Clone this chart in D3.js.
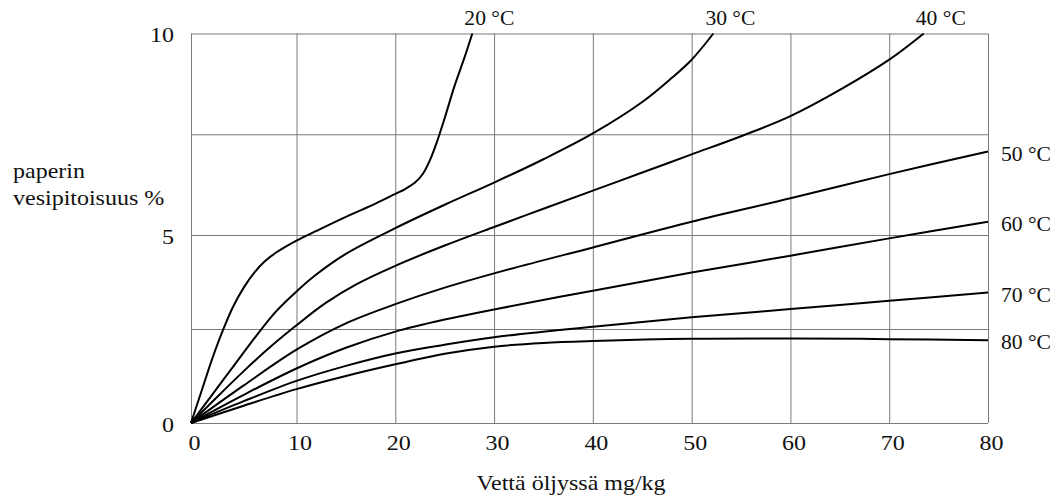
<!DOCTYPE html>
<html>
<head>
<meta charset="utf-8">
<script src="https://cdn.jsdelivr.net/npm/d3@7"></script>
<style>
body { margin: 0; background: #fff; }
text { font-family: "Liberation Serif", "Times New Roman", serif; fill: #111; }
</style>
</head>
<body>
<script>

//
//**   Dane   **/
//

var xTicks = [0, 10, 20, 30, 40, 50, 60, 70, 80];
var yTicks = [0, 2.5, 5, 7.5, 10];
var yLabels = [0, 5, 10];

var names = ["20 °C", "30 °C", "40 °C", "50 °C", "60 °C", "70 °C", "80 °C"];

var c20 = [[0,0],[1,0.85],[2,1.7],[3,2.45],[4,3.1],[5,3.6],[6,4.0],[7,4.3],[8,4.52],[10,4.85],
           [12,5.1],[15,5.45],[18,5.78],[20,6.02],[21,6.14],[22,6.3],[22.8,6.52],[23.5,6.85],
           [24.2,7.3],[25,7.9],[26,8.7],[27,9.4],[27.8,10]];
var c30 = [[0,0],[2,0.75],[4,1.5],[6,2.25],[8,2.95],[10,3.5],[12,3.95],[15,4.5],[20,5.17],
           [25,5.75],[30,6.3],[35,6.88],[40,7.52],[45,8.3],[48,8.9],[50,9.35],[52.2,10]];
var c40 = [[0,0],[2.5,0.7],[5,1.38],[7.5,2.02],[10,2.6],[13,3.2],[16,3.68],[20,4.18],[25,4.72],
           [30,5.2],[35,5.65],[40,6.1],[45,6.55],[50,7.0],[55,7.45],[60,7.95],[65,8.6],
           [70,9.35],[73.5,10]];
var c50 = [[0,0],[5,1.0],[10,1.95],[15,2.65],[20,3.16],[25,3.6],[30,3.98],[40,4.67],[50,5.33],
           [60,5.91],[70,6.51],[80,7.07]];
var c60 = [[0,0],[5,0.75],[10,1.45],[15,2.0],[20,2.43],[25,2.75],[30,3.02],[40,3.52],[50,4.0],
           [60,4.45],[70,4.91],[80,5.33]];
var c70 = [[0,0],[5,0.58],[10,1.12],[15,1.52],[20,1.85],[25,2.08],[30,2.28],[40,2.56],[50,2.81],
           [60,3.03],[70,3.25],[80,3.47]];
var c80 = [[0,0],[5,0.46],[10,0.9],[15,1.25],[20,1.56],[25,1.84],[30,2.03],[35,2.13],[40,2.18],
           [50,2.24],[60,2.25],[70,2.23],[80,2.2]];

var series = [c20, c30, c40, c50, c60, c70, c80];

//
//**   Osie   **/
//

var width = 1057, height = 499;
var sx = 1.2;   // tekst w oryginale jest rozciągnięty w poziomie

var svg = d3.select("body").append("svg")
    .attr("width", width)
    .attr("height", height);

var x = d3.scaleLinear()
    .domain([0, 10, 80])
    .range([191, 296.5, 988]);

var y = d3.scaleLinear()
    .domain([0, 5, 10])
    .range([423, 235, 33.5]);

var xAxis = d3.axisBottom(x)
    .tickValues(xTicks)
    .tickSize(-(y(0) - y(10)))
    .tickFormat(d3.format("d"));

var yAxis = d3.axisLeft(y)
    .tickValues(yTicks)
    .tickSize(-(x(80) - x(0)))
    .tickFormat(function (d) { return yLabels.indexOf(d) >= 0 ? d : ""; });

var gX = svg.append("g")
    .attr("transform", "translate(0," + y(0) + ")")
    .call(xAxis);

gX.select(".domain").remove();
gX.selectAll("line").attr("stroke", "#7a7a7a");
gX.selectAll("text")
    .attr("y", 27)
    .attr("dy", 0)
    .attr("x", 3 / sx)
    .attr("transform", "scale(" + sx + ",1)")
    .style("font-size", "20px")
    .style("fill", "#111");

var gY = svg.append("g")
    .attr("transform", "translate(" + x(0) + ",0)")
    .call(yAxis);

gY.select(".domain").remove();
gY.selectAll("line").attr("stroke", "#7a7a7a");
gY.selectAll("text")
    .attr("x", -17 / sx)
    .attr("dy", "0.42em")
    .attr("transform", "scale(" + sx + ",1)")
    .style("font-size", "20px")
    .style("fill", "#111");

function label(px, py, str, anchor, k) {
    svg.append("g")
        .attr("transform", "translate(" + px + "," + py + ") scale(" + k + ",1)")
      .append("text")
        .attr("text-anchor", anchor)
        .style("font-size", "20px")
        .text(str);
}

label(571, 490, "Vettä öljyssä mg/kg", "middle", sx);
label(13, 178, "paperin", "start", sx);
label(13, 205, "vesipitoisuus %", "start", sx);

//
//**   Wykres   **/
//

var line = d3.line()
    .x(function (d) { return x(d[0]); })
    .y(function (d) { return y(d[1]); })
    .curve(d3.curveCatmullRom.alpha(0.5));

svg.selectAll(".curve").data(series)
  .enter()
  .append("path")
    .attr("class", "curve")
    .attr("d", line)
    .attr("fill", "none")
    .attr("stroke", "#000")
    .attr("stroke-width", 2);

series.forEach(function (s, i) {
    var last = s[s.length - 1];
    if (last[1] >= 10) {
        label(x(last[0]) - 8, 25, names[i], "start", 1.08);
    } else {
        label(x(80) + 13, y(last[1]) + 9, names[i], "start", 1.08);
    }
});

</script>
</body>
</html>
